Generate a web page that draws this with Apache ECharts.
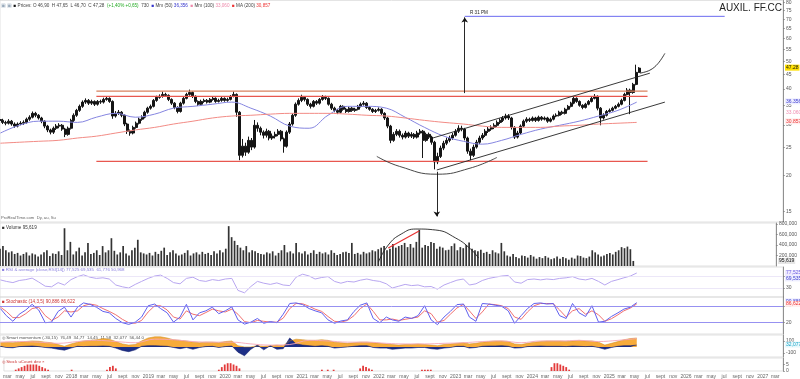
<!DOCTYPE html>
<html><head><meta charset="utf-8">
<script src="https://cdn.jsdelivr.net/npm/echarts@6/dist/echarts.min.js"></script>
<style>html,body{margin:0;padding:0;background:#fff}#c{width:800px;height:379px}</style>
</head><body><div id="c"></div>
<script>
// ---------- DATA (bi-weekly bars from 2017-02-13) ----------
const firstOpen = 31.3;
const close = [31.1,30.6,30.4,30.9,30.2,29.7,30.2,30.4,30.6,31.4,
31.9,32.9,32.4,31.7,30.9,29.7,28.8,28.3,29.2,29.7,
29.9,29.0,27.8,29.2,31.1,32.4,33.7,34.8,36.0,36.5,
35.7,36.2,35.4,36.2,36.0,36.8,37.1,36.2,32.2,32.9,
33.2,32.4,30.2,28.5,28.1,29.4,30.4,31.4,31.9,33.2,
34.3,34.8,36.5,37.4,37.7,38.3,38.0,36.8,35.7,34.5,
33.4,35.7,37.1,38.3,38.9,37.7,36.2,35.4,36.2,36.5,
36.0,36.8,37.1,36.2,36.5,37.1,36.5,36.8,37.7,38.3,
33.2,23.5,25.3,24.1,26.5,25.1,29.9,29.2,28.3,27.6,
28.5,27.0,27.4,27.8,28.5,26.8,25.3,28.3,30.2,32.4,
35.4,36.5,37.4,36.8,35.4,34.8,36.2,35.7,36.8,37.4,
37.1,35.4,34.3,33.7,33.2,34.8,34.0,33.4,34.3,33.7,
34.0,34.8,35.4,35.7,34.5,34.0,33.4,33.7,34.0,32.9,
31.7,29.7,26.5,27.8,28.5,27.6,27.2,28.1,27.4,27.8,
27.2,28.1,28.5,26.5,27.8,27.2,26.1,22.3,23.3,24.9,
25.9,26.5,27.0,27.6,28.5,29.2,29.0,27.0,24.3,23.5,
25.1,26.1,27.0,27.6,28.5,29.0,29.4,29.9,30.6,31.1,
31.7,32.2,31.7,29.4,27.2,28.1,29.7,30.9,31.4,31.1,
31.7,31.1,31.9,31.4,31.7,30.9,31.4,32.2,32.4,33.2,
32.9,34.0,34.8,35.7,37.1,36.2,35.1,34.5,35.4,36.2,
37.1,37.7,34.3,31.7,32.4,33.4,33.7,34.3,34.8,35.4,
36.5,38.3,39.6,38.9,41.5,45.7,47.28];
const high = [31.8,31.5,31.0,31.4,31.2,30.6,30.6,30.9,31.1,31.8,
32.4,33.4,33.3,32.7,32.0,31.1,30.0,29.1,29.6,30.2,
30.4,30.2,29.3,29.6,31.5,32.9,34.1,35.3,36.5,37.1,
36.9,36.7,36.5,36.6,36.7,37.3,37.8,37.4,36.5,33.5,
33.8,33.5,32.6,30.5,28.9,29.8,30.8,31.8,32.4,33.6,
34.7,35.3,36.9,37.9,38.3,39.2,38.8,38.3,37.1,36.0,
34.8,36.1,37.6,38.8,39.8,39.2,38.0,36.5,36.7,37.0,
36.9,37.2,37.6,37.4,37.0,37.5,37.4,37.3,38.1,39.2,
38.6,33.5,26.8,26.0,27.3,27.0,31.2,30.6,29.6,28.7,
29.1,28.8,28.0,28.4,29.0,28.8,27.1,28.7,30.7,32.9,
35.9,37.1,38.2,37.8,37.1,35.8,36.6,36.6,37.2,38.1,
37.9,37.4,35.8,34.7,34.1,35.2,35.1,34.4,34.7,34.6,
34.4,35.2,35.9,36.3,36.0,34.9,34.3,34.1,34.5,34.3,
33.2,32.0,30.0,28.3,29.0,28.9,28.0,28.6,28.4,28.3,
28.1,28.6,29.0,28.8,28.2,28.2,27.5,26.4,24.0,25.4,
26.4,27.1,27.5,28.1,29.0,29.9,29.8,29.3,27.3,24.8,
25.6,26.6,27.5,28.1,29.0,29.5,29.9,30.4,31.1,31.6,
32.2,32.8,32.7,32.0,29.7,28.6,30.1,31.3,31.9,31.8,
32.1,32.0,32.3,32.2,32.1,32.0,31.8,32.6,32.9,33.6,
33.6,34.4,35.2,36.1,37.7,37.4,36.5,35.4,35.8,36.6,
37.6,38.4,38.0,34.6,32.9,33.8,34.2,34.7,35.2,35.9,
37.0,38.8,40.3,40.1,42.0,48.6,47.65];
const low = [30.7,30.2,29.9,30.1,29.8,29.3,29.4,29.9,30.0,30.3,
31.0,31.6,31.9,31.3,30.4,29.2,28.3,27.8,27.9,28.8,
29.2,28.6,27.2,27.5,28.9,30.7,32.0,33.3,34.4,35.5,
35.2,35.2,34.9,35.0,35.5,35.6,36.4,35.8,31.5,31.8,
32.5,31.9,29.7,27.9,27.5,27.8,29.1,30.1,31.0,31.6,
32.8,33.9,34.5,36.1,37.0,37.3,37.5,36.3,35.2,34.0,
32.9,33.1,35.3,36.8,37.9,37.2,35.7,34.9,35.0,35.8,
35.6,35.7,36.4,35.8,35.9,36.1,36.1,36.1,36.5,37.4,
32.0,22.6,23.1,23.4,23.8,24.5,24.8,28.4,27.6,26.9,
27.1,26.5,26.6,26.9,27.4,26.3,24.0,25.0,27.9,29.8,
32.0,35.0,36.0,36.2,34.9,34.2,34.5,35.2,35.3,36.4,
36.6,35.0,33.8,33.2,32.7,32.9,33.6,33.0,33.1,33.3,
33.3,33.7,34.5,35.0,34.1,33.6,33.0,33.0,33.4,32.5,
31.2,29.2,25.9,26.2,27.4,27.1,26.7,26.9,27.0,27.0,
26.8,26.9,27.7,23.0,26.2,26.8,25.6,21.0,21.9,23.0,
24.5,25.5,26.1,26.6,27.3,28.1,28.5,26.5,23.8,22.6,
23.2,24.8,25.7,26.6,27.2,28.1,28.6,29.0,29.5,30.2,
30.7,31.3,31.2,28.9,26.8,26.9,27.8,29.4,30.5,30.7,
30.8,30.7,30.8,31.0,31.1,30.5,30.6,31.1,31.9,32.1,
32.5,32.6,33.7,34.5,35.4,35.8,34.7,34.0,34.2,35.1,
35.9,36.8,33.7,29.9,31.3,32.1,33.1,33.4,34.0,34.5,
35.1,36.2,38.0,32.7,38.5,41.2,45.5];
// volume in thousands
const volume = [330,380,300,260,280,230,250,200,230,260,
200,240,220,180,220,260,300,190,240,230,
280,210,720,300,460,220,280,350,200,260,
440,230,250,300,210,380,260,300,530,290,
220,260,380,240,200,300,350,500,260,240,
220,250,200,270,230,290,350,210,260,300,
240,200,220,250,300,200,240,260,220,270,
230,250,210,280,240,300,260,330,760,550,
480,400,350,300,380,260,300,280,250,230,
220,260,240,280,200,250,300,400,260,280,
240,440,260,240,280,220,250,300,230,270,
240,260,220,300,250,210,230,260,270,250,
440,230,250,220,270,240,260,300,280,320,
350,380,300,330,420,350,380,400,440,360,
420,350,460,690,350,400,380,460,440,330,
370,350,300,310,380,430,300,360,340,400,
450,330,300,280,310,250,270,230,300,260,
240,440,280,200,180,230,170,150,200,190,
160,210,180,140,170,150,190,160,130,150,
180,140,170,150,120,160,140,200,190,160,
150,180,300,260,220,180,200,230,250,220,
270,300,360,340,370,320,96];
// quarterly moving averages (from 2017-02)
const maBlue = [28.1,29.9,30.9,30.9,30.6,31.9,32.9,31.9,32.7,34.3,34.8,35.4,36.0,34.3,32.2,29.7,29.2,32.4,34.8,34.8,34.3,31.9,29.4,27.4,26.3,25.7,26.5,27.8,29.0,29.9,30.9,32.2,33.7,36.0];
const maRed = [25.9,26.1,26.3,26.5,27.0,27.4,28.1,28.8,29.4,30.2,30.9,31.7,32.2,32.4,32.7,32.9,32.9,32.9,32.7,32.4,32.2,31.7,31.1,30.6,30.2,29.7,29.4,29.4,29.4,29.7,29.9,30.2,30.4,30.6];
// monthly indicators (from 2017-02)
const rsi = [57,52,48,55,58,63,50,36,34,48,
40,58,68,74,66,62,64,60,40,34,
30,42,52,62,70,73,62,48,44,62,
66,55,52,58,55,60,62,22,14,35,
52,46,42,47,40,38,66,76,70,60,
65,68,52,46,52,50,56,60,55,52,
44,30,36,42,38,40,34,35,26,40,
48,56,60,40,44,55,62,66,70,72,
50,46,58,60,57,60,58,62,64,68,
60,57,62,52,40,52,58,64,70,80];
const stochK = [70,45,25,50,65,85,65,20,22,60,
75,40,75,90,85,75,60,55,35,20,
14,22,40,80,86,70,55,22,40,85,
30,55,62,75,52,62,76,30,15,22,
35,18,24,20,50,88,90,84,70,62,
55,30,18,26,30,60,82,90,35,20,
40,30,25,40,35,45,80,30,13,40,
60,84,86,40,25,88,86,82,78,62,
18,45,70,88,90,86,88,45,35,88,
55,42,80,22,25,42,55,68,75,90.9];
const stochD = [75,60,38,38,52,70,75,45,28,40,
62,58,62,80,86,82,70,60,48,32,
20,18,28,58,80,80,65,40,33,62,
50,45,56,68,62,58,68,50,24,20,
28,25,22,22,36,70,88,87,78,68,
60,42,25,22,28,45,70,86,60,30,
30,33,28,32,36,40,62,52,22,28,
50,72,85,62,35,58,86,84,80,70,
40,32,58,80,88,88,87,65,40,62,
70,50,62,48,25,34,48,62,72,86.6];
const momOrange = [70,75,70,80,90,100,95,80,70,40,
10,50,80,100,110,120,140,130,90,50,
30,40,100,150,170,170,150,120,110,100,
80,70,80,80,70,90,100,20,0,0,
20,10,20,30,20,100,130,120,110,110,
120,110,80,70,60,70,80,80,70,60,
50,40,30,40,40,50,40,30,20,40,
50,60,70,50,60,80,90,100,100,90,
50,40,60,80,90,100,100,100,90,100,
110,100,100,80,30,60,90,120,140,150];
const momGreen = [0,0,0,0,20,50,20,0,0,0,
0,0,0,20,30,20,20,0,0,0,
0,0,30,60,70,60,30,0,0,20,
0,0,0,0,0,0,0,-80,-40,0,
0,0,0,0,0,0,30,30,20,20,
20,0,0,0,0,0,0,0,0,0,
0,-70,-20,0,0,0,0,-30,-50,0,
0,0,0,0,0,0,0,0,0,0,
0,0,0,0,0,0,10,20,30,20,
0,20,40,0,0,0,20,60,90,80];
const momNavy = [10,-10,-15,5,10,15,5,-10,-20,-40,
-55,-20,10,5,10,10,15,10,-20,-60,
-80,-50,10,20,20,15,10,-10,-30,-10,
-40,-10,5,10,-10,5,15,-90,-150,-40,
30,-50,20,-40,-30,150,50,30,20,10,
20,10,-20,-10,0,10,20,20,-10,-20,
-20,-40,-30,-20,-20,-10,-10,-30,-40,-20,
-10,10,10,-20,-10,10,15,15,20,10,
-20,-15,5,10,15,10,10,10,5,15,
10,5,10,-10,-40,-10,10,20,20,30];
const momPinkQ = [80,90,80,60,90,110,90,70,130,120,90,80,80,50,30,40,110,100,80,80,60,50,50,60,70,90,100,70,100,100,110,90,110,140];
// uCount histogram: [bi-weekly bar index, value]
const ucount = [[4,1],[5,2],[6,3],[7,4],[8,5],[9,5],[10,5],[11,5],[12,4],[13,3],[14,2],[15,1],[23,1],
[35,1],[36,3],[37,4],[38,2],[73,1],[74,3],[75,5],[76,6],[77,6],[78,5],[79,4],[80,2],
[108,1],[110,1],[112,1],[121,2],[122,4],[123,3],[124,2],[125,1],[142,1],[143,1],[144,1],[145,1],
[186,3],[187,6],[188,6],[189,5],[190,4],[191,3],[192,1]];
// ticks
const priceTicks = [15,20,25,30,35,40,45,50,55,60,65,70,75,80];
const volTicks = [200000,400000,600000,800000];
const monthTickNames = {2:'mar',4:'may',6:'jul',8:'sept',10:'nov'};
// annotations (date, price)
const levels = [
  {from:'2018-05-15', to:'2025-07-05', price:39.3, color:'#d8805e'},
  {from:'2018-05-15', to:'2025-07-05', price:37.7, color:'#e8574f'},
  {from:'2018-05-15', to:'2025-07-05', price:22.4, color:'#e8574f'}
];
const target = {from:'2023-02-21', to:'2026-07-05', price:71.6};
const channelUpper = [['2022-09-23',27.0],['2025-07-16',45.4]];
const channelLower = [['2022-10-12',20.9],['2025-09-25',36.0]];
const bowl = [['2022-01-01',23.3],['2022-04-19',21.5],['2022-10-12',20.2],['2023-03-18',21.2],['2023-07-23',23.1]];
const projection = [['2025-05-30',45.4],['2025-07-16',46.5],['2025-08-23',49.0],['2025-09-25',53.2]];
const arrowUp = [['2023-02-21',38.7],['2023-02-21',71.0]];
const arrowDown = [['2022-10-12',20.6],['2022-10-12',14.4]];
const waves = [['1','2023-01-29',30.6],['2','2023-03-20',21.7],['3','2024-07-26',38.0],['4','2024-12-05',29.4],['5','2025-09-20',55.4]];
const volArc = [['2022-01-25',76000],['2022-03-13',400000],['2022-05-14',610000],['2022-07-23',705000],['2022-10-26',686000],['2023-01-29',533000],['2023-04-10',324000],['2023-05-18',152000]];
const volRed = [['2022-03-13',343000],['2022-08-07',667000]];

// ---------- BUILD ----------
const L = Math.log, DAY = 864e5;
const T = d => typeof d === 'string' ? Date.parse(d + 'T00:00:00Z') : d;
const t0 = Date.UTC(2017,1,13);
const xMin = t0, xMax = Date.UTC(2027,3,7);
const barT = close.map((_, i) => t0 + i*14*DAY);
const monT = rsi.map((_, i) => Date.UTC(2017, 1+i, 15));
const qT = maBlue.map((_, k) => Date.UTC(2017, 1+3*k, 15));
const open = close.map((c,i) => i === 0 ? firstOpen : close[i-1]);
const yMin = L(45) - 148/125, yMax = L(45) + 74/125;

const xTicks = [];
for (let y = 2017; y <= 2027; y++) for (let m = 0; m < 12; m += 2) {
  const t = Date.UTC(y, m, 1); if (t > xMin && t < xMax) xTicks.push(t);
}
const fmtX = v => { const d = new Date(v); const m = d.getUTCMonth(); return m === 0 ? String(d.getUTCFullYear()) : monthTickNames[m]; };

const FONT = 'Liberation Sans';
const gridDefs = [[0,222],[223,43],[267,30],[297,37],[335,22],[358,14]];
const grid = gridDefs.map(([top,height]) => ({left:0,right:17,top,height,show:true,borderColor:'#d9d9d9',borderWidth:0.8}));
const xAxis = gridDefs.map((g,i) => ({
  type:'value', gridIndex:i, min:xMin, max:xMax, scale:true,
  axisLine:{show:false}, axisTick:{show:false}, splitLine:{show:false},
  axisLabel: i === 5 ? {show:true, customValues:xTicks, formatter:fmtX, fontSize:5, color:'#666', margin:3, fontFamily:FONT, hideOverlap:false} : {show:false}
}));
function yAx(i, min, max, vals, fmt) {
  return {type:'value', gridIndex:i, position:'right', min, max, scale:true,
    axisLine:{show:true, lineStyle:{color:'#777', width:0.8}},
    axisTick:{show:true, length:2, customValues:vals, lineStyle:{color:'#777', width:0.6}},
    axisLabel:{show:true, customValues:vals, formatter:fmt, fontSize:5, color:'#555', margin:3, fontFamily:FONT},
    splitLine:{show:false}};
}
const yAxis = [
  yAx(0, yMin, yMax, priceTicks.map(L), v => String(Math.round(Math.exp(v)))),
  yAx(1, 0, 820000, volTicks, v => v.toLocaleString('en-US')),
  yAx(2, 0, 100, [30,70], v => String(v)),
  yAx(3, -20, 111, [20,80], v => String(v)),
  yAx(4, -170, 200, [-100,100], v => String(v)),
  yAx(5, 0, 10, [0,5], v => String(v))
];
function tag(value, text, color, bg) {
  return {yAxis:value, label:{show:true, position:'end', formatter:text, color:color, backgroundColor:bg, fontSize:5, padding:[1,1,0,1], distance:2, fontFamily:FONT}, lineStyle:{color:'rgba(0,0,0,0)', width:0}};
}
const lnPts = arr => arr.map(([d,p]) => [T(d), L(p)]);
const tPts = arr => arr.map(([d,v]) => [T(d), v]);
const seg = (name, data, color, width, extra) => Object.assign({name, type:'line', xAxisIndex:0, yAxisIndex:0, data, symbol:'none', silent:true, lineStyle:{color, width}, z:4}, extra||{});

const series = [];
series.push({type:'candlestick', xAxisIndex:0, yAxisIndex:0, barWidth:2.5,
  data: barT.map((t,i) => [t, L(open[i]), L(close[i]), L(low[i]), L(high[i])]),
  itemStyle:{color:'#151515', color0:'#151515', borderColor:'#151515', borderColor0:'#151515', borderWidth:1},
  markLine:{silent:true, symbol:'none', data:[
    tag(L(47.28),'47.28','#111','#ffe000'), tag(L(36.356),'36.356','#3b3bd0','#eef'),
    tag(L(33.06),'33.060','#f08db0','#fff'), tag(L(30.857),'30.857','#e33','#fee')]}
});
series.push(seg('maBlue', qT.map((t,k)=>[t, L(maBlue[k])]), '#8585e0', 1, {smooth:0.4}));
series.push(seg('maRed', qT.map((t,k)=>[t, L(maRed[k])]), '#f28b85', 1, {smooth:0.4}));
levels.forEach(l => series.push(seg('lvl', [[T(l.from), L(l.price)],[T(l.to), L(l.price)]], l.color, 1.3)));
series.push(seg('target', [[T(target.from), L(target.price)],[T(target.to), L(target.price)]], '#6a6af0', 1));
series.push(seg('chU', lnPts(channelUpper), '#222', 0.9));
series.push(seg('chL', lnPts(channelLower), '#222', 0.9));
series.push(seg('bowl', lnPts(bowl), '#333', 0.9, {smooth:0.5}));
series.push(seg('proj', lnPts(projection), '#222', 0.9, {smooth:0.4}));
const aU = lnPts(arrowUp), aD = lnPts(arrowDown);
series.push({type:'line', xAxisIndex:0, yAxisIndex:0, data:[], silent:true,
  markLine:{silent:true, symbol:['none','arrow'], symbolSize:5, lineStyle:{color:'#111', width:0.9, type:'solid'}, label:{show:false},
    data:[[{coord:aU[0]},{coord:aU[1]}],[{coord:aD[0]},{coord:aD[1]}]]}});
series.push({type:'scatter', xAxisIndex:0, yAxisIndex:0, symbolSize:1, silent:true, itemStyle:{opacity:0},
  data: waves.map(([n,d,p]) => ({name:n, value:[T(d), L(p)]})),
  label:{show:true, formatter:'{b}', position:'inside', fontSize:5, color:'#222', fontFamily:FONT}});
// volume
series.push({type:'bar', xAxisIndex:1, yAxisIndex:1, barWidth:1.7, data: barT.map((t,i)=>[t, volume[i]*1000]),
  itemStyle:{color:'#333'},
  markLine:{silent:true, symbol:'none', data:[tag(95619,'95,619','#111','#e6e6e6')]}});
series.push({type:'line', xAxisIndex:1, yAxisIndex:1, data:tPts(volArc), symbol:'none', smooth:0.5, lineStyle:{color:'#222', width:0.9}, silent:true});
series.push({type:'line', xAxisIndex:1, yAxisIndex:1, data:tPts(volRed), symbol:'none', lineStyle:{color:'#e83030', width:1.2}, silent:true});
// RSI
const rsiHi = 60, rsiLo = 40;
series.push({type:'line', xAxisIndex:2, yAxisIndex:2, stack:'rU', symbol:'none', silent:true, lineStyle:{width:0}, data: monT.map(t=>[t, rsiHi])});
series.push({type:'line', xAxisIndex:2, yAxisIndex:2, stack:'rU', symbol:'none', silent:true, lineStyle:{width:0}, areaStyle:{color:'#8f86ee', opacity:0.8}, data: monT.map((t,i)=>[t, Math.max(rsi[i]-rsiHi,0)])});
series.push({type:'line', xAxisIndex:2, yAxisIndex:2, stack:'rD', symbol:'none', silent:true, lineStyle:{width:0}, data: monT.map((t,i)=>[t, Math.min(rsi[i], rsiLo)])});
series.push({type:'line', xAxisIndex:2, yAxisIndex:2, stack:'rD', symbol:'none', silent:true, lineStyle:{width:0}, areaStyle:{color:'#8f86ee', opacity:0.8}, data: monT.map((t,i)=>[t, rsiLo - Math.min(rsi[i], rsiLo)])});
series.push({type:'line', xAxisIndex:2, yAxisIndex:2, symbol:'none', silent:true, data: monT.map((t,i)=>[t, rsi[i]]), lineStyle:{color:'#b8a6f0', width:1},
  markLine:{silent:true, symbol:'none', data:[
    {yAxis:70, label:{show:false}, lineStyle:{color:'#e4dcf5', width:0.7, type:'solid'}},
    {yAxis:30, label:{show:false}, lineStyle:{color:'#e4dcf5', width:0.7, type:'solid'}},
    tag(80,'77,525','#6b5fe0','#efeaff'), tag(62,'69,535','#3b3bd0','#eef')]}});
// Stochastic
series.push({type:'line', xAxisIndex:3, yAxisIndex:3, symbol:'none', silent:true, data: monT.map((t,i)=>[t, stochD[i]]), lineStyle:{color:'#f07070', width:1},
  markLine:{silent:true, symbol:'none', data:[
    {yAxis:80, label:{show:false}, lineStyle:{color:'#8b85ef', width:0.9, type:'solid'}},
    {yAxis:20, label:{show:false}, lineStyle:{color:'#8b85ef', width:0.9, type:'solid'}},
    tag(96,'90,886','#3b3bd0','#eef'), tag(86.6,'86,622','#e33','#fee')]}});
series.push({type:'line', xAxisIndex:3, yAxisIndex:3, symbol:'none', silent:true, data: monT.map((t,i)=>[t, stochK[i]]), lineStyle:{color:'#6060ee', width:1}});
// Momentum
series.push({type:'line', xAxisIndex:4, yAxisIndex:4, stack:'m', symbol:'none', silent:true, data: monT.map((t,i)=>[t, momOrange[i]]), lineStyle:{color:'#c8891e', width:0.5}, areaStyle:{color:'#f7ab3a', opacity:1}});
series.push({type:'line', xAxisIndex:4, yAxisIndex:4, stack:'m', symbol:'none', silent:true, data: monT.map((t,i)=>[t, momGreen[i]]), lineStyle:{color:'#4fb84f', width:0.5}, areaStyle:{color:'#72d86a', opacity:1}});
series.push({type:'line', xAxisIndex:4, yAxisIndex:4, symbol:'none', silent:true, data: monT.map((t,i)=>[t, momNavy[i]]), lineStyle:{color:'#14206e', width:0.6}, areaStyle:{color:'#1d2f86', opacity:1}, z:3,
  markLine:{silent:true, symbol:'none', data:[tag(40,'32,077','#1aa6c8','#e8f8fc')]}});
series.push({type:'line', xAxisIndex:4, yAxisIndex:4, symbol:'none', silent:true, smooth:0.4, data: qT.map((t,k)=>[t, momPinkQ[k]]), lineStyle:{color:'#f5a7b8', width:0.9}, z:4});
// uCount
series.push({type:'bar', xAxisIndex:5, yAxisIndex:5, barWidth:1.8, data: ucount.map(([i,v]) => [barT[i], v]), itemStyle:{color:'#e33a3a'}});

const txt = (left, top, text, fill, size) => ({type:'text', left, top, silent:true, style:{text, fill, font: (size||4.6)+'px "'+FONT+'"'}});
const graphic = [
  {type:'text', right:18, top:3, silent:true, style:{text:'AUXIL. FF.CC', fill:'#222', font:'10px "Liberation Sans"'}},
  {type:'text', left:1, top:3, silent:true, style:{text:'{g|▣ ▣} {k|■} Prices: O 46,90  H 47,65  L 46,70  C 47,28  {gr|(+1,40% +0,65)}  730  {b|■} Mm (50) {b|36,356}  {p|■} Mm (100) {p|33,060}  {r|■} MA (200) {r|30,857}',
    fill:'#444', font:'4.6px "Liberation Sans"', rich:{g:{fill:'#9ab', fontSize:4.6}, k:{fill:'#111', fontSize:4.6}, gr:{fill:'#2a2', fontSize:4.6}, b:{fill:'#33c', fontSize:4.6}, p:{fill:'#e8a', fontSize:4.6}, r:{fill:'#e33', fontSize:4.6}}}},
  txt(1, 216, 'ProRealTime.com  Dy, au, Su', '#666', 4.2),
  txt(2, 225, '■ Volume 95,619', '#333', 4.6),
  txt(2, 268, '■ RSI & average (close,RSI[14]) 77,525 69,535  61,776 50,968', '#8a7fe0', 4.4),
  txt(2, 299, '■ Stochastic (14,3,5) 90,886 86,622', '#c33', 4.6),
  txt(2, 336, '◎ Smart momentum (-30,15)  76,49  34,77  14,45  11,58  32,077  56,44 0', '#555', 4.4),
  txt(2, 360, '◎ Stock uCount dev ×', '#c33', 4.4),
  txt(470, 10, 'R 31 PM', '#222', 4.6)
];

const chart = echarts.init(document.getElementById('c'), null, {renderer:'canvas'});
chart.setOption({animation:false, backgroundColor:'#fff', grid, xAxis, yAxis, series, graphic});
</script></body></html>
